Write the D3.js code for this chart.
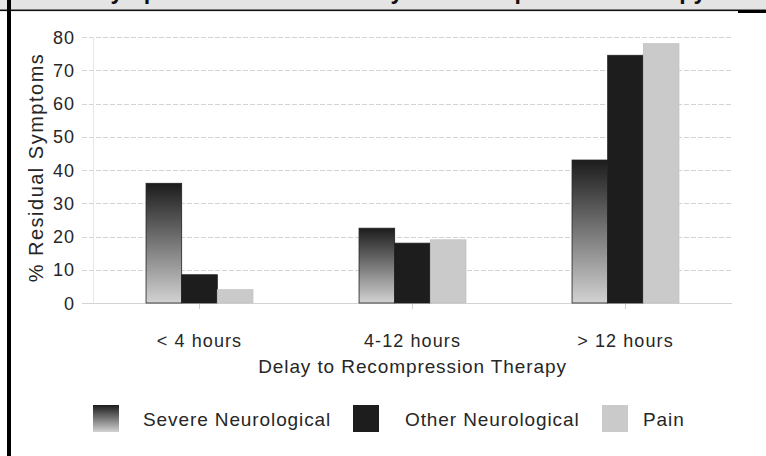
<!DOCTYPE html>
<html>
<head>
<meta charset="utf-8">
<script src="https://cdn.jsdelivr.net/npm/d3@7/dist/d3.min.js"></script>
<style>
  html, body { margin: 0; padding: 0; background: #fff; }
  svg { display: block; }
  text { font-family: "Liberation Sans", Arial, sans-serif; fill: #262626; }
</style>
</head>
<body>
<svg id="chart" width="766" height="456"></svg>
<script>
// ---- data ----
const categories = ["< 4 hours", "4-12 hours", "> 12 hours"];
const seriesNames = ["Severe Neurological", "Other Neurological", "Pain"];
const severeNeurological = [36, 22.5, 43];
const otherNeurological = [8.5, 18, 74.5];
const pain = [4, 19, 78];
const yTicks = [0, 10, 20, 30, 40, 50, 60, 70, 80];
const titleText = "Residual Symptoms Relative to Delay to Recompression Therapy";
const xTitle = "Delay to Recompression Therapy";
const yTitle = "% Residual Symptoms";

const seriesValues = [severeNeurological, otherNeurological, pain];
const table = categories.map((c, i) => ({
  category: c,
  values: seriesNames.map((s, j) => ({ series: s, value: seriesValues[j][i] }))
}));

// ---- layout ----
const W = 766, H = 456;
const plot = { left: 93, right: 732, top: 37, bottom: 303 };
const svg = d3.select("#chart");

// gradient for severe
const defs = svg.append("defs");
const grad = defs.append("linearGradient").attr("id", "sevGrad")
  .attr("x1", 0).attr("y1", 0).attr("x2", 0).attr("y2", 1);
grad.append("stop").attr("offset", "0%").attr("stop-color", "#1c1c1c");
grad.append("stop").attr("offset", "100%").attr("stop-color", "#d2d2d2");

const fills = { "Severe Neurological": "url(#sevGrad)", "Other Neurological": "#1d1d1d", "Pain": "#cacaca" };

// frame: grey title band (title cropped at the top, as in the source), borders
svg.append("rect").attr("x", 0).attr("y", 0).attr("width", W).attr("height", 10).attr("fill", "#e4e4e4");
svg.append("text").attr("x", -7).attr("y", -1.2)
  .style("font-weight", "bold").style("font-size", "23px").style("fill", "#111")
  .text(titleText);
svg.append("rect").attr("x", 0).attr("y", 9.5).attr("width", W).attr("height", 1.6).attr("fill", "#111");
svg.append("rect").attr("x", 738).attr("y", 10).attr("width", W - 738).attr("height", 3).attr("fill", "#000");
svg.append("rect").attr("x", 7).attr("y", 0).attr("width", 4).attr("height", H).attr("fill", "#000");

// scales
const x0 = d3.scaleBand().domain(categories).range([plot.left, plot.right]).paddingInner(0).paddingOuter(0);
const x1 = d3.scaleBand().domain(seriesNames).range([0, x0.bandwidth() * 0.502]).padding(0);
const y = d3.scaleLinear().domain([0, 80]).range([plot.bottom, plot.top]);

// gridlines
svg.append("g").selectAll("line").data(yTicks).join("line")
  .attr("x1", 82).attr("x2", plot.right)
  .attr("y1", d => Math.round(y(d)) + 0.5).attr("y2", d => Math.round(y(d)) + 0.5)
  .attr("stroke", "#d3d3d3").attr("stroke-width", 1)
  .attr("stroke-dasharray", d => d === 0 ? null : "5,2");

// y axis line
svg.append("line").attr("x1", plot.left + 0.5).attr("x2", plot.left + 0.5)
  .attr("y1", plot.top).attr("y2", plot.bottom)
  .attr("stroke", "#e6e6e6");

// y tick labels
svg.append("g").selectAll("text").data(yTicks).join("text")
  .attr("x", 75).attr("y", d => y(d) + 6.5)
  .attr("text-anchor", "end")
  .style("font-size", "18px").style("letter-spacing", "1px")
  .text(d => d);

// x ticks
svg.append("g").selectAll("line").data(categories).join("line")
  .attr("x1", d => x0(d) + x0.bandwidth() / 2).attr("x2", d => x0(d) + x0.bandwidth() / 2)
  .attr("y1", plot.bottom).attr("y2", plot.bottom + 6)
  .attr("stroke", "#cfcfcf");

// bars
const groups = svg.append("g").selectAll("g").data(table).join("g")
  .attr("transform", d => `translate(${x0(d.category) + x0.bandwidth() / 2 - x1.range()[1] / 2},0)`);
groups.selectAll("rect").data(d => d.values).join("rect")
  .attr("x", d => x1(d.series))
  .attr("y", d => y(d.value))
  .attr("width", x1.bandwidth())
  .attr("height", d => y(0) - y(d.value))
  .attr("fill", d => fills[d.series])
  .attr("stroke", d => d.series === "Pain" ? "#c2c2c2" : "#202020")
  .attr("stroke-width", 0.8);

// x tick labels
svg.append("g").selectAll("text").data(categories).join("text")
  .attr("x", d => x0(d) + x0.bandwidth() / 2).attr("y", 347)
  .attr("text-anchor", "middle")
  .style("font-size", "18px").style("letter-spacing", "1.1px")
  .text(d => d);

// axis titles
svg.append("text").attr("x", (plot.left + plot.right) / 2).attr("y", 373)
  .attr("text-anchor", "middle")
  .style("font-size", "19px").style("letter-spacing", "0.9px")
  .text(xTitle);
svg.append("text").attr("transform", "translate(43,167.5) rotate(-90)")
  .attr("text-anchor", "middle")
  .style("font-size", "20px").style("letter-spacing", "1.5px")
  .text(yTitle);

// legend
const legendSwatchX = [93, 353, 602];
const legendTextX = [143, 405, 643];
const leg = svg.append("g").selectAll("g").data(seriesNames).join("g");
leg.append("rect")
  .attr("x", (d, i) => legendSwatchX[i]).attr("y", 405)
  .attr("width", 26).attr("height", 27)
  .attr("fill", d => fills[d]);
leg.append("text")
  .attr("x", (d, i) => legendTextX[i]).attr("y", 426)
  .style("font-size", "19px").style("letter-spacing", "0.9px")
  .text(d => d);
</script>
</body>
</html>
